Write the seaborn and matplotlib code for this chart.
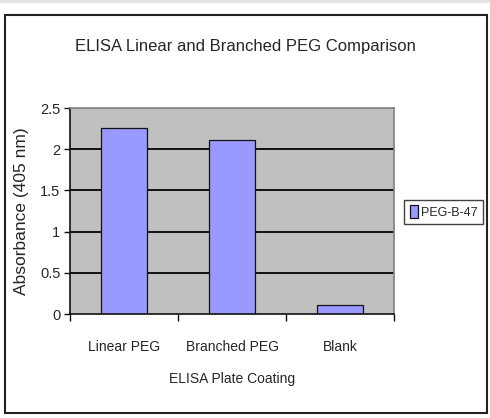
import matplotlib
matplotlib.use('Agg')
import matplotlib.pyplot as plt
from matplotlib.patches import Rectangle
import pandas as pd
import seaborn as sns

coatings = ['Linear PEG', 'Branched PEG', 'Blank']
absorbance = [2.26, 2.11, 0.11]
series_name = 'PEG-B-47'
y_ticks = [0, 0.5, 1, 1.5, 2, 2.5]
y_tick_labels = ['0', '0.5', '1', '1.5', '2', '2.5']


def main():
    sns.set_style('white')
    plt.rcParams['font.family'] = ['Liberation Sans', 'DejaVu Sans']

    df = pd.DataFrame({'coating': coatings,
                       'absorbance': absorbance,
                       'series': series_name})

    fig = plt.figure(figsize=(4.9, 4.18), dpi=100)
    # light strip at the very top and the black chart frame
    fig.patches.append(Rectangle((0, 415 / 418), 1, 3 / 418, transform=fig.transFigure,
                                 facecolor='#e4e4e4', edgecolor='none'))
    fig.patches.append(Rectangle((5 / 490, 5 / 418), 482 / 490, 398 / 418,
                                 transform=fig.transFigure, facecolor='none',
                                 edgecolor='#222222', linewidth=1.5))

    ax = fig.add_axes([70 / 490, 104 / 418, 324 / 490, 206 / 418])
    ax.set_facecolor('#c0c0c0')
    sns.barplot(data=df, x='coating', y='absorbance', hue='series',
                palette=['#9999ff'], saturation=1, width=0.42,
                edgecolor='#111111', linewidth=0.9, ax=ax)

    ax.set_ylim(0, 2.5)
    ax.set_xlim(-0.5, 2.5)
    ax.set_yticks(y_ticks)
    ax.set_yticklabels(y_tick_labels)
    ax.set_axisbelow(True)
    for y in y_ticks[1:-1]:
        ax.axhline(y, color='#111111', linewidth=1.4, zorder=0.5)

    ax.set_xticks(range(len(coatings)))
    ax.set_xticklabels(coatings)
    ax.set_xticks([-0.5, 0.5, 1.5, 2.5], minor=True)
    ax.tick_params(axis='x', which='major', length=0, pad=19, labelsize=10)
    ax.tick_params(axis='x', which='minor', length=5, width=1, direction='out',
                   color='#111111', bottom=True)
    ax.tick_params(axis='y', length=4, width=1, direction='out', color='#111111',
                   left=True, pad=3, labelsize=10.5)

    for side in ['left', 'bottom']:
        ax.spines[side].set_color('#111111')
        ax.spines[side].set_linewidth(1.2)
    for side in ['top', 'right']:
        ax.spines[side].set_color('#808080')
        ax.spines[side].set_linewidth(1.2)

    ax.set_xlabel('ELISA Plate Coating', fontsize=10, labelpad=13)
    ax.set_ylabel('Absorbance (405 nm)', fontsize=12.5, labelpad=8)
    fig.text(245 / 490, 1 - 47 / 418, 'ELISA Linear and Branched PEG Comparison',
             ha='center', va='center', fontsize=12)

    handles, labels = ax.get_legend_handles_labels()
    ax.legend(handles, labels, loc='center left', bbox_to_anchor=(404 / 490, 206 / 418),
              bbox_transform=fig.transFigure, frameon=True, fancybox=False,
              edgecolor='#111111', fontsize=9, handlelength=0.7, handleheight=1.2,
              handletextpad=0.2, borderpad=0.45, borderaxespad=0)

    fig.savefig('out.png', dpi=100)


if __name__ == '__main__':
    main()
